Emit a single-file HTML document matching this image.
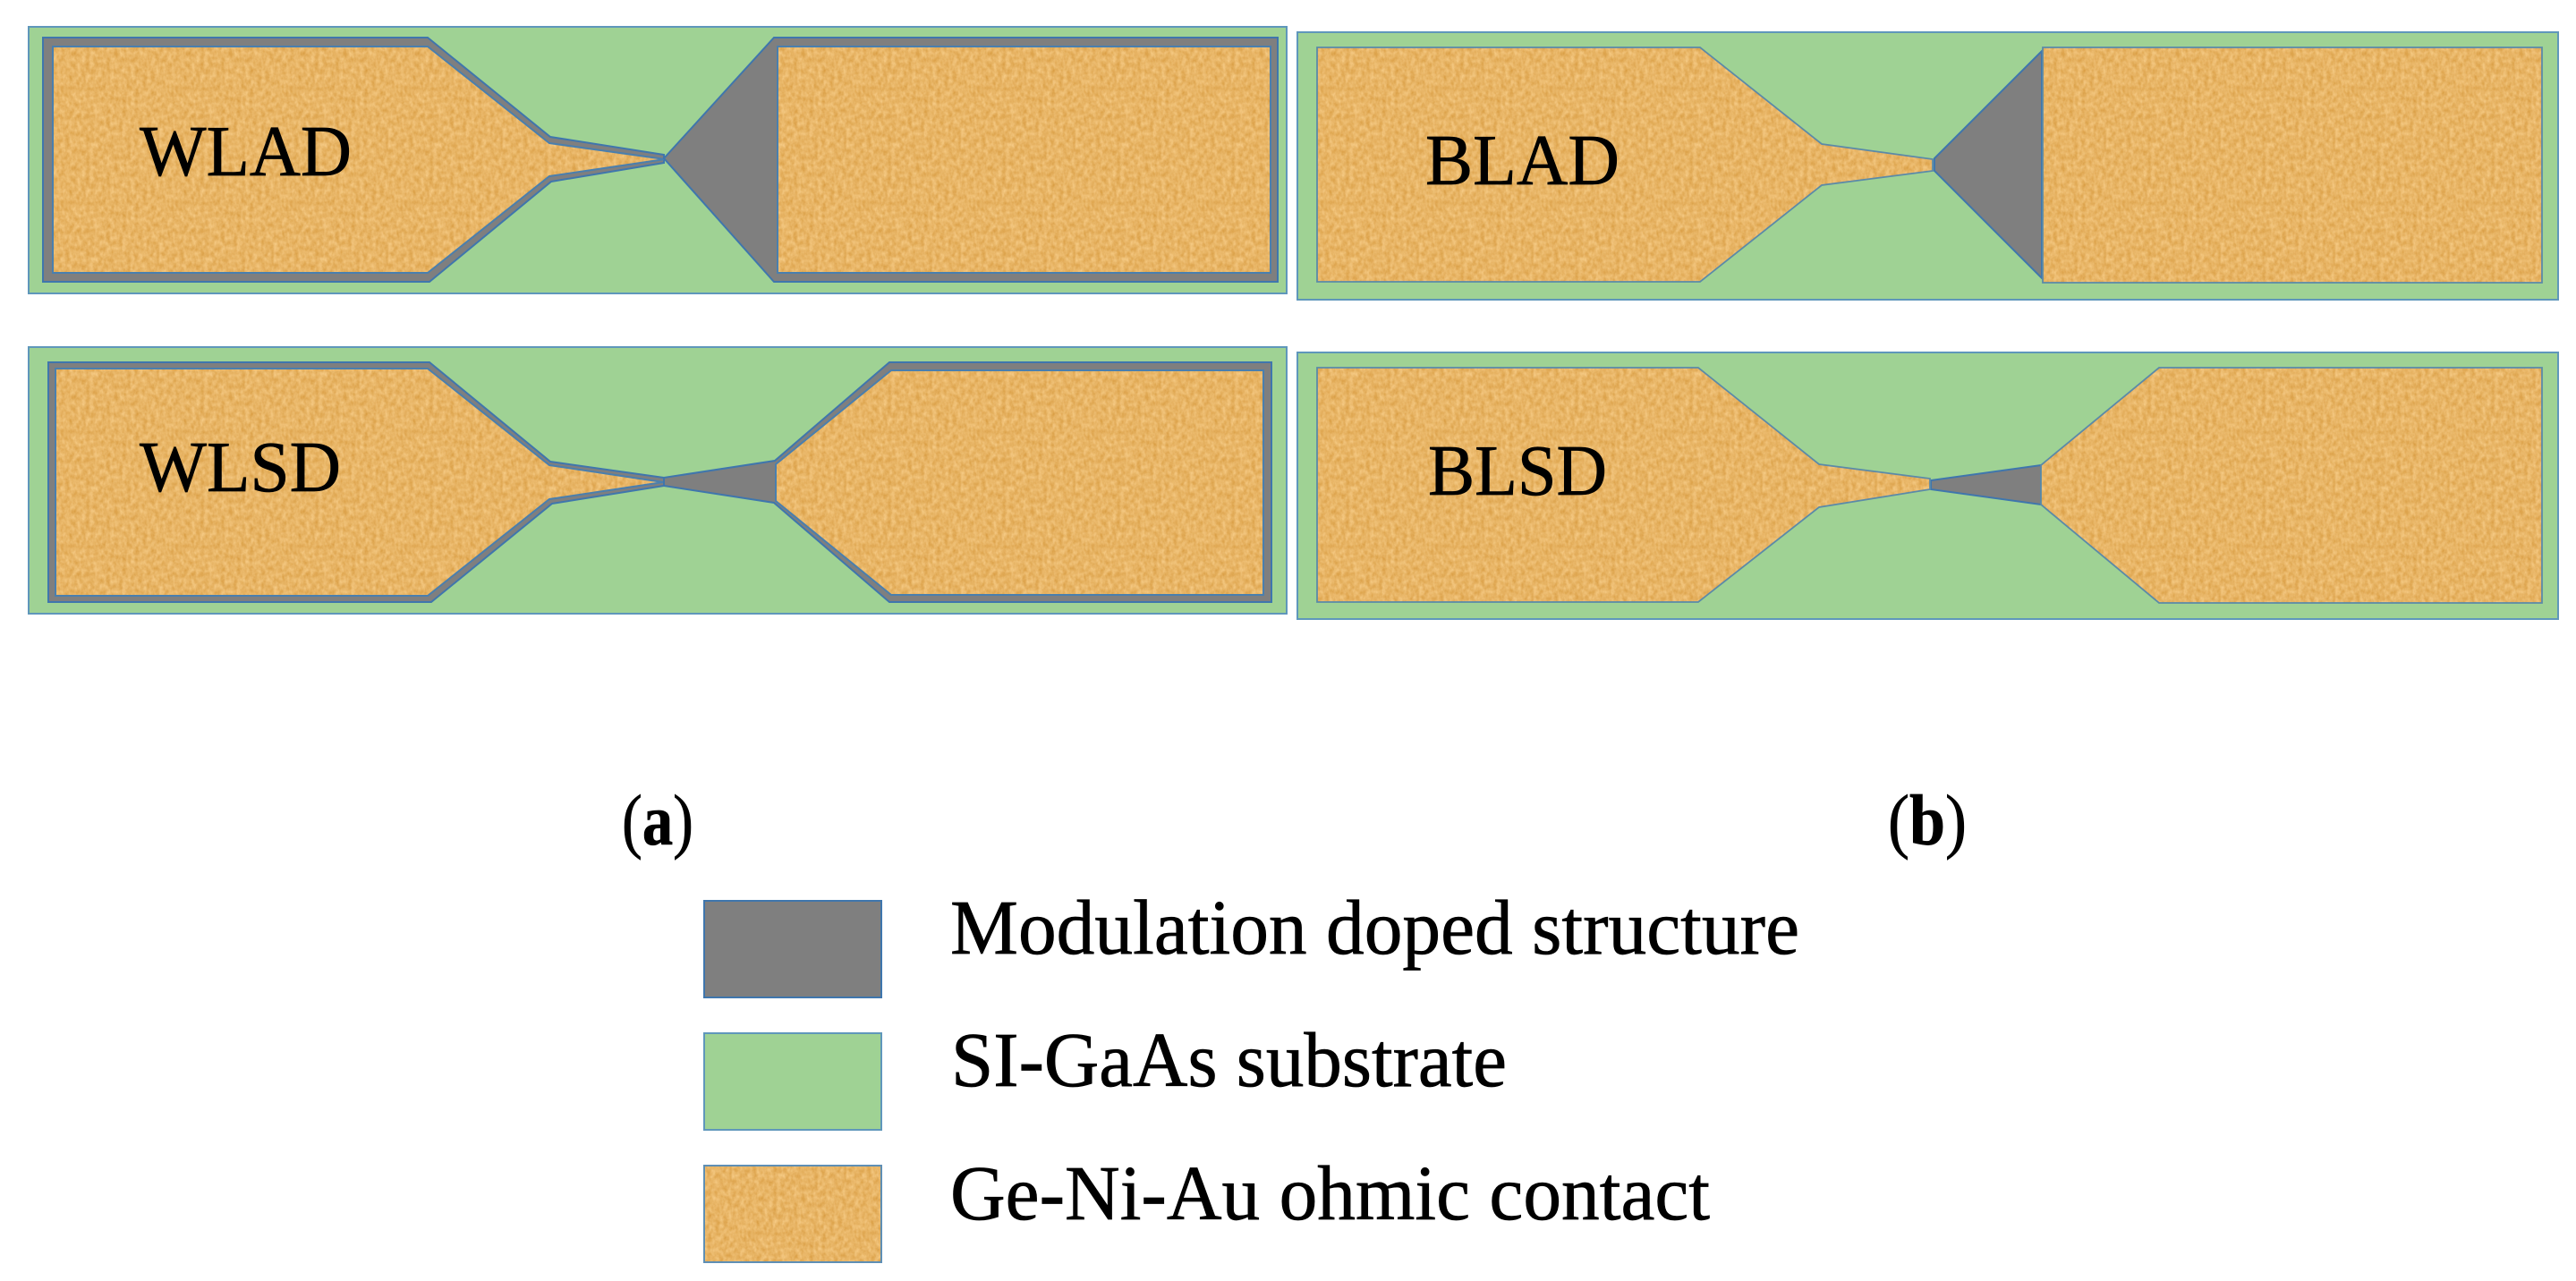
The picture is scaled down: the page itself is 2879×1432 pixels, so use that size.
<!DOCTYPE html>
<html>
<head>
<meta charset="utf-8">
<style>
html,body{margin:0;padding:0;background:#fff;width:2879px;height:1432px;overflow:hidden}
svg{display:block}
text{font-family:"Liberation Serif","Times New Roman",serif;fill:#000;stroke:#000;stroke-width:.7px}
.sub{fill:#9fd294;stroke:#5f97bb;stroke-width:2}
.gr{fill:#7f7f7f;stroke:#3f76ad;stroke-width:2;stroke-linejoin:miter}
.or{fill:url(#tex);stroke:#4a7fae;stroke-width:2}
.or2{fill:url(#tex);stroke:#5b8aa8;stroke-width:1.8}
.lb{font-size:81px}
.lg{font-size:87px}
.cp{font-size:80px}
</style>
</head>
<body>
<svg width="2879" height="1432" viewBox="0 0 2879 1432" xmlns="http://www.w3.org/2000/svg">
<defs>
<filter id="noise" x="0" y="0" width="100%" height="100%" color-interpolation-filters="sRGB">
<feTurbulence type="fractalNoise" baseFrequency="0.22 0.16" numOctaves="3" seed="5" stitchTiles="stitch"/>
<feColorMatrix type="matrix" values="0 0.14 0 0 0.84  0 0.22 0 0 0.60  0 0.32 0 0 0.24  0 0 0 0 1"/>
</filter>
<pattern id="tex" patternUnits="userSpaceOnUse" width="128" height="128">
<rect width="128" height="128" fill="#e5b565" filter="url(#noise)"/>
</pattern>
</defs>
<rect width="2879" height="1432" fill="#fff"/>

<!-- WLAD -->
<rect class="sub" x="32" y="30" width="1406" height="298"/>
<polygon class="gr" points="48,42 478,42 615,153 742,173 742,182 616,203 480,315 48,315"/>
<polygon class="or" points="59,52 478,52 614,160 743,178 614,197 478,305 59,305"/>
<polygon class="gr" points="742,177 865,42 1428,42 1428,315 865,315"/>
<polygon class="or" points="869,52 1420,52 1420,305 869,305"/>
<text class="lb" x="156" y="196" textLength="237" lengthAdjust="spacingAndGlyphs">WLAD</text>

<!-- WLSD -->
<rect class="sub" x="32" y="388" width="1406" height="298"/>
<polygon class="gr" points="54,405 480,405 615,516 742,534 742,543 617,563 482,673 54,673"/>
<polygon class="or" points="62,412 478,412 614,520 741,539 614,558 478,666 62,666"/>
<polygon class="gr" points="742,534 866,515 994,405 1421,405 1421,673 994,673 865,562 742,543"/>
<polygon class="or" points="996,414 1412,414 1412,665 996,665 867,560 867,519"/>
<text class="lb" x="156" y="549" textLength="225" lengthAdjust="spacingAndGlyphs">WLSD</text>

<!-- BLAD -->
<rect class="sub" x="1450" y="36" width="1409" height="299"/>
<polygon class="gr" points="2162,177 2282,57 2282,311 2162,191"/>
<polygon class="or2" points="1472,53 1900,53 2036,161 2160,178 2160,191 2036,207 1900,315 1472,315"/>
<polygon class="or2" points="2283,53 2841,53 2841,316 2283,316"/>
<text class="lb" x="1593" y="206" textLength="217" lengthAdjust="spacingAndGlyphs">BLAD</text>

<!-- BLSD -->
<rect class="sub" x="1450" y="394" width="1409" height="298"/>
<polygon class="gr" points="2158,537 2281,520 2281,564 2158,547"/>
<polygon class="or2" points="1472,411 1898,411 2033,519 2157,535 2157,547 2033,567 1898,673 1472,673"/>
<polygon class="or2" points="2413,411 2841,411 2841,674 2413,674 2281,564 2281,520"/>
<text class="lb" x="1596" y="553" textLength="200" lengthAdjust="spacingAndGlyphs">BLSD</text>

<!-- captions -->
<text class="cp" x="695" y="944" textLength="80" lengthAdjust="spacingAndGlyphs">(<tspan font-weight="bold">a</tspan>)</text>
<text class="cp" x="2110" y="944" textLength="88" lengthAdjust="spacingAndGlyphs">(<tspan font-weight="bold">b</tspan>)</text>

<!-- legend -->
<rect x="787" y="1007" width="198" height="108" fill="#7f7f7f" stroke="#3f76ad" stroke-width="2"/>
<rect x="787" y="1155" width="198" height="108" fill="#9fd294" stroke="#5f97bb" stroke-width="2"/>
<rect x="787" y="1303" width="198" height="108" fill="url(#tex)" stroke="#5f8fb5" stroke-width="2"/>
<text class="lg" x="1062" y="1066" textLength="949" lengthAdjust="spacingAndGlyphs">Modulation doped structure</text>
<text class="lg" x="1063" y="1214" textLength="621" lengthAdjust="spacingAndGlyphs">SI-GaAs substrate</text>
<text class="lg" x="1062" y="1363" textLength="849" lengthAdjust="spacingAndGlyphs">Ge-Ni-Au ohmic contact</text>
</svg>
</body>
</html>
